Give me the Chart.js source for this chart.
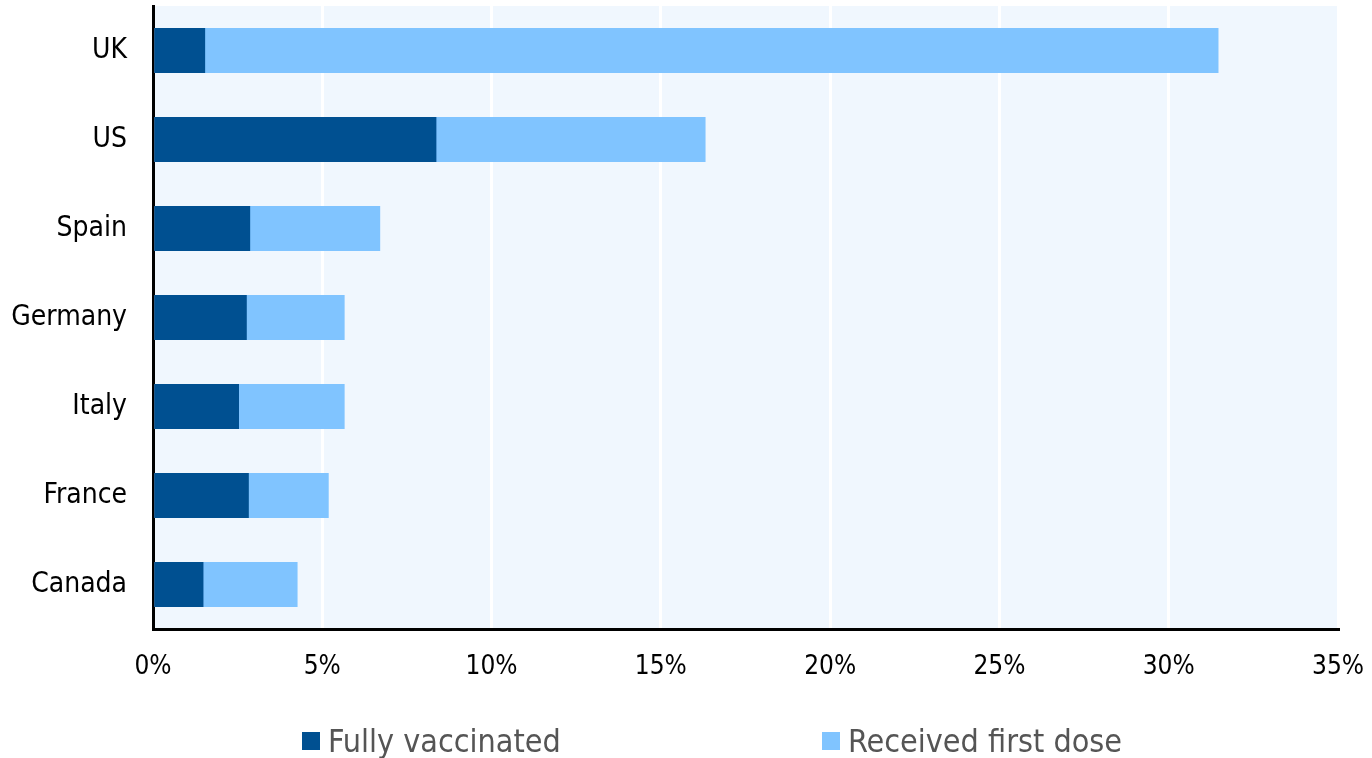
<!DOCTYPE html>
<html>
<head>
<meta charset="utf-8">
<script src="https://cdn.jsdelivr.net/npm/chart.js@4/dist/chart.umd.min.js"></script>
<style>
  html, body { margin: 0; padding: 0; background: #ffffff; }
  #wrap { position: relative; width: 1372px; height: 758px; overflow: hidden; }
  #chart { position: absolute; left: 0; top: 0; }
  .legend-item { position: absolute; top: 721px; height: 40px; display: flex; align-items: center;
    font-family: "DejaVu Sans Condensed", "DejaVu Sans", sans-serif; font-size: 32px; color: #555555; white-space: nowrap; }
  .legend-box { width: 18px; height: 18px; margin-right: 8px; flex: none; }
</style>
</head>
<body>
<div id="wrap">
  <canvas id="chart" width="1372" height="758"></canvas>
  <div id="legend"></div>
</div>
<script>
const categories = ["UK", "US", "Spain", "Germany", "Italy", "France", "Canada"];
const fullyVaccinated = [1.54, 8.37, 2.87, 2.77, 2.54, 2.83, 1.49];
const receivedFirstDose = [31.47, 16.32, 6.71, 5.66, 5.66, 5.19, 4.27];
const seriesLabels = ["Fully vaccinated", "Received first dose"];
const xTickValues = [0, 5, 10, 15, 20, 25, 30, 35];

const FONT = '"DejaVu Sans Condensed", "DejaVu Sans", sans-serif';
const darkBlue = '#005091';
const lightBlue = '#80c4ff';
const plotBg = '#f0f7fe';

const plotBackground = {
  id: 'plotBackground',
  beforeDraw(chart) {
    const { ctx, chartArea } = chart;
    ctx.save();
    ctx.fillStyle = plotBg;
    ctx.fillRect(chartArea.left, chartArea.top, chartArea.right - chartArea.left, chartArea.bottom - chartArea.top);
    ctx.restore();
  }
};

const chart = new Chart(document.getElementById('chart'), {
  type: 'bar',
  data: {
    labels: categories,
    datasets: [
      { label: seriesLabels[0], data: fullyVaccinated, backgroundColor: darkBlue, grouped: false,
        barPercentage: 0.506, categoryPercentage: 1 },
      { label: seriesLabels[1], data: receivedFirstDose, backgroundColor: lightBlue, grouped: false,
        barPercentage: 0.506, categoryPercentage: 1 }
    ]
  },
  options: {
    indexAxis: 'y',
    responsive: false,
    animation: false,
    layout: { padding: { top: 6, right: 34, left: 0, bottom: 0 } },
    plugins: {
      legend: { display: false },
      tooltip: { enabled: false }
    },
    scales: {
      x: {
        type: 'linear',
        min: 0,
        max: 35,
        afterBuildTicks(scale) { scale.ticks = xTickValues.map(v => ({ value: v })); },
        afterFit(scale) {
          scale.height = 129;
          scale.paddingLeft = 0; scale.paddingRight = 0;
        },
        ticks: {
          callback: v => v + '%',
          color: '#000000',
          font: { family: FONT, size: 26 },
          padding: 23,
          maxRotation: 0
        },
        grid: { color: '#ffffff', lineWidth: 3, drawTicks: false },
        border: { display: true, color: '#000000', width: 3 }
      },
      y: {
        afterFit(scale) {
          scale.width = 153;
          scale.paddingTop = 0; scale.paddingBottom = 0;
        },
        ticks: {
          color: '#000000',
          font: { family: FONT, size: 28 },
          padding: 26
        },
        grid: { display: false, drawTicks: false },
        border: { display: true, color: '#000000', width: 3 }
      }
    }
  },
  plugins: [plotBackground]
});

// HTML legend built from the chart datasets
const legendPositions = [302, 822];
const legendEl = document.getElementById('legend');
chart.data.datasets.forEach((ds, i) => {
  const item = document.createElement('div');
  item.className = 'legend-item';
  item.style.left = legendPositions[i] + 'px';
  const box = document.createElement('span');
  box.className = 'legend-box';
  box.style.background = ds.backgroundColor;
  const txt = document.createElement('span');
  txt.textContent = ds.label;
  item.appendChild(box);
  item.appendChild(txt);
  legendEl.appendChild(item);
});
</script>
</body>
</html>
